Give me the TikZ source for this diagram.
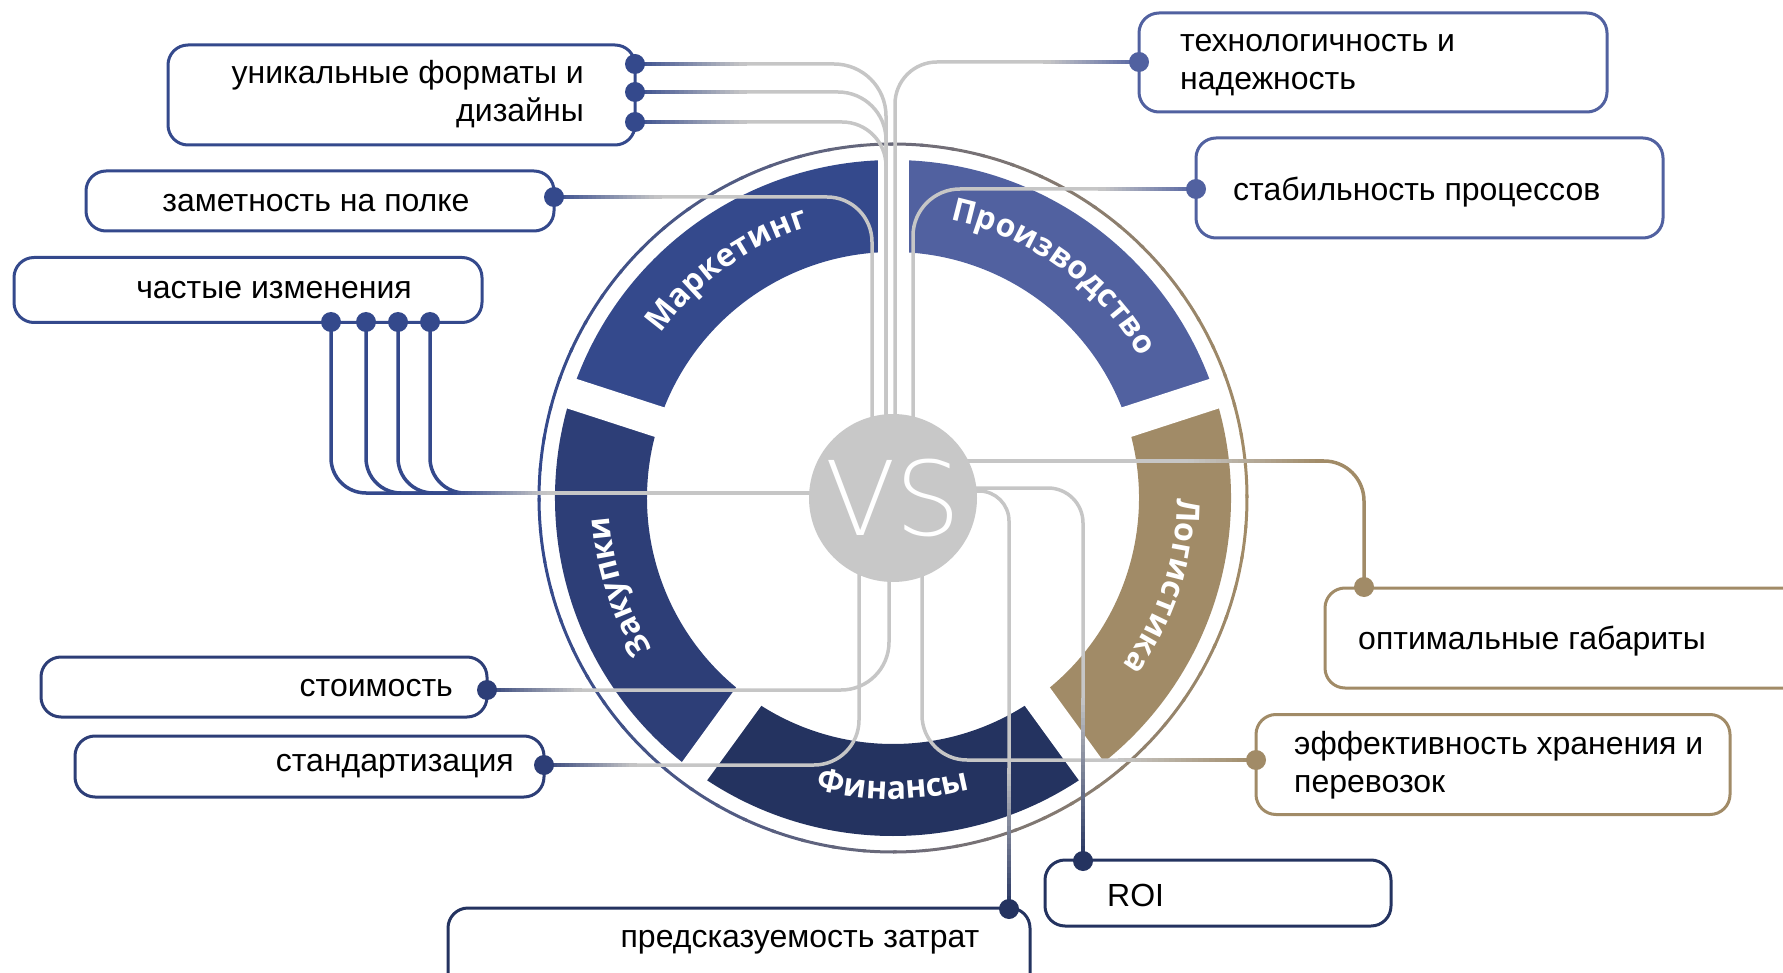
\documentclass[tikz,border=0pt]{standalone}
\usepackage{fontspec}
\setmainfont{Liberation Sans}
\newfontfamily\ringfont{Open Sans}
\IfFontExistsTF{DejaVu Sans ExtraLight}{\newfontfamily\vsfont{DejaVu Sans ExtraLight}}{\newfontfamily\vsfont{DejaVu Sans}}
\usetikzlibrary{calc,decorations.text}

\definecolor{mk}{HTML}{34498C}
\definecolor{pr}{HTML}{5161A0}
\definecolor{lg}{HTML}{A18B67}
\definecolor{fn}{HTML}{243360}
\definecolor{zk}{HTML}{2D3E77}
\definecolor{ln}{HTML}{C6C6C6}
\definecolor{vsc}{HTML}{C8C8C8}

\newcommand\rfont{\ringfont\bfseries\fontsize{32}{32}\selectfont\color{white}}
\newcommand\gradln[4]{%
  \foreach \k in {0,...,23}{%
    \pgfmathsetmacro\gA{\k/24}%
    \pgfmathsetmacro\gB{(\k+1)/24}%
    \pgfmathsetmacro\gC{100*(\k+0.5)/24}%
    \draw[line width=3.5pt, line cap=rect, color=#4!\gC!#3] ($#1!\gA!#2$) -- ($#1!\gB!#2$);}%
}

\begin{document}
\begin{tikzpicture}[x=1pt,y=-1pt,
  box/.style={draw, line width=3pt, rounded corners=20pt, fill=white, inner sep=0pt},
  lbl/.style={inner sep=0pt, font=\fontsize{32}{38}\selectfont, text=black},
  conn/.style={line width=3.5pt, draw=ln},
  dotn/.style={circle, inner sep=0pt, minimum size=20pt}]

\useasboundingbox (0,0) rectangle (1783,973);

% ---------- ring ----------
\begin{scope}[shift={(893,498)}, x=1pt, y=1pt]
  \foreach \a in {0,5,...,355}{%
    \pgfmathsetmacro\tt{50+50*cos(\a+2.5)}%
    \draw[line width=3pt, color=lg!\tt!mk] (\a:354) arc (\a:\a+5.6:354);}
  \fill[mk] (90:338) arc (90:162:338) -- (162:246) arc (162:90:246) -- cycle;
  \fill[zk] (162:338) arc (162:234:338) -- (234:246) arc (234:162:246) -- cycle;
  \fill[fn] (234:338) arc (234:306:338) -- (306:246) arc (306:234:246) -- cycle;
  \fill[lg] (306:338) arc (306:378:338) -- (378:246) arc (378:306:246) -- cycle;
  \fill[pr] (18:338) arc (18:90:338) -- (90:246) arc (90:18:246) -- cycle;
  \foreach \g in {18,90,162,234,306}{\draw[white, line width=31pt] (\g:238) -- (\g:346);}
  \path[decorate, decoration={text along path, text align=center, text={|\rfont|Маркетинг}}] (186:284) arc (186:66:284);
  \path[decorate, decoration={text along path, text align=center, text={|\rfont|Производство}}] (126:284) arc (126:-18:284);
  \path[decorate, decoration={text along path, text align=center, text={|\rfont|Логистика}}] (54:284) arc (54:-90:284);
  \path[decorate, decoration={text along path, text align=center, text={|\rfont|Закупки}}] (270:284) arc (270:126:284);
  \path[decorate, decoration={text along path, text align=center, text={|\rfont|Финансы}}] (200:301) arc (200:340:301);
\end{scope}

% ---------- boxes ----------
\node[box, draw=mk, minimum width=467pt, minimum height=100pt] (b1) at (401.5,95) {};
\node[box, draw=mk, minimum width=468pt, minimum height=60pt] (b2) at (320,201) {};
\node[box, draw=mk, minimum width=468pt, minimum height=65pt] (b3) at (248,290) {};
\node[box, draw=pr, minimum width=468pt, minimum height=99pt] (b4) at (1373,62.5) {};
\node[box, draw=pr, minimum width=467pt, minimum height=100pt] (b5) at (1429.5,188) {};
\node[box, draw=lg, minimum width=500pt, minimum height=100pt] (b6) at (1575,638) {};
\node[box, draw=lg, minimum width=474pt, minimum height=100pt] (b7) at (1493,764.5) {};
\node[box, draw=fn, minimum width=346pt, minimum height=66pt] (b8) at (1218,893) {};
\node[box, draw=fn, minimum width=582pt, minimum height=100pt] (b9) at (739,958) {};
\node[box, draw=zk, minimum width=446pt, minimum height=60pt] (b10) at (264,687) {};
\node[box, draw=zk, minimum width=469pt, minimum height=61pt] (b11) at (309.5,766.5) {};

\node[lbl, anchor=east, align=right] (t1) at (584,94) {уникальные форматы и\\дизайны};
\node[lbl] (t2) at (316,203) {заметность на полке};
\node[lbl] (t3) at (274,290) {частые изменения};
\node[lbl, anchor=west, align=left] (t4) at (1180,65) {технологичность и\\надежность};
\node[lbl, anchor=west] (t5) at (1233,192) {стабильность процессов};
\node[lbl, anchor=west] (t6) at (1358,641) {оптимальные габариты};
\node[lbl, anchor=west, align=left] (t7) at (1294,765) {эффективность хранения и\\перевозок};
\node[lbl, anchor=west] (t8) at (1107,895) {ROI};
\node[lbl] (t9) at (800,942) {предсказуемость затрат};
\node[lbl, anchor=east] (t10) at (453,688) {стоимость};
\node[lbl, anchor=east] (t11) at (514,766) {стандартизация};

% ---------- dots (positions) ----------
\coordinate (d1a) at (635,64);
\coordinate (d1b) at (635,92);
\coordinate (d1c) at (635,122);
\coordinate (d2) at (554,197);
\coordinate (d3a) at (331,322);
\coordinate (d3b) at (366,322);
\coordinate (d3c) at (398,322);
\coordinate (d3d) at (430,322);
\coordinate (d4) at (1139,62);
\coordinate (d5) at (1196,189);
\coordinate (d6) at (1364,587);
\coordinate (d7) at (1256,760);
\coordinate (d8) at (1083,861);
\coordinate (d9) at (1009,909);
\coordinate (d10) at (487,690);
\coordinate (d11) at (544,765);

% lanes
\coordinate (lane1) at (886,440);
\coordinate (lane2) at (872,440);
\coordinate (lane4) at (895,440);
\coordinate (lane5) at (913,440);
\coordinate (laneL) at (850,493);
\coordinate (laneR1) at (930,461);
\coordinate (laneR2) at (940,488);
\coordinate (laneR3) at (940,491);
\coordinate (laneB1) at (922,540);
\coordinate (laneB2) at (889,540);
\coordinate (laneB3) at (859,540);

% gradient ends
\coordinate (g1a) at (745,64);
\coordinate (g1b) at (745,92);
\coordinate (g1c) at (745,122);
\coordinate (g2) at (660,197);
\coordinate (g3s) at (455,493);
\coordinate (g3e) at (545,493);
\coordinate (g4) at (1045,62);
\coordinate (g5) at (1100,189);
\coordinate (g6s) at (1190,461);
\coordinate (g6e) at (1322,461);
\coordinate (g7) at (1120,760);
\coordinate (g8) at (1083,700);
\coordinate (g9) at (1009,770);
\coordinate (g10) at (580,690);
\coordinate (g11) at (635,765);

% ---------- connectors ----------
\draw[conn, rounded corners=52pt] (d1a) -| (lane1);
\draw[conn, rounded corners=48pt] (d1b) -| (lane1);
\draw[conn, rounded corners=44pt] (d1c) -| (lane1);
\gradln{(d1a)}{(g1a)}{mk}{ln}
\gradln{(d1b)}{(g1b)}{mk}{ln}
\gradln{(d1c)}{(g1c)}{mk}{ln}

\draw[conn, rounded corners=45pt] (d2) -| (lane2);
\gradln{(d2)}{(g2)}{mk}{ln}

\draw[conn, draw=mk, rounded corners=35pt] (d3a) |- (g3e);
\draw[conn, draw=mk, rounded corners=35pt] (d3b) |- (g3e);
\draw[conn, draw=mk, rounded corners=35pt] (d3c) |- (g3e);
\draw[conn, draw=mk, rounded corners=35pt] (d3d) |- (g3e);
\draw[conn] (g3e) -- (laneL);
\gradln{(g3s)}{(g3e)}{mk}{ln}

\draw[conn, rounded corners=42pt] (d4) -| (lane4);
\gradln{(d4)}{(g4)}{pr}{ln}
\draw[conn, rounded corners=47pt] (d5) -| (lane5);
\gradln{(d5)}{(g5)}{pr}{ln}

\draw[conn, draw=lg, rounded corners=40pt] (laneR1) -| (d6);
\draw[conn] (laneR1) -- (g6s);
\gradln{(g6s)}{(g6e)}{ln}{lg}

\draw[conn, rounded corners=45pt] (laneB1) |- (d7);
\gradln{(g7)}{(d7)}{ln}{lg}

\draw[conn, rounded corners=35pt] (laneR2) -| (d8);
\gradln{(g8)}{(d8)}{ln}{fn}
\draw[conn, rounded corners=30pt] (laneR3) -| (d9);
\gradln{(g9)}{(d9)}{ln}{fn}

\draw[conn, rounded corners=48pt] (d10) -| (laneB2);
\gradln{(d10)}{(g10)}{zk}{ln}
\draw[conn, rounded corners=45pt] (d11) -| (laneB3);
\gradln{(d11)}{(g11)}{zk}{ln}

% ---------- dots ----------
\foreach \n in {d1a,d1b,d1c,d2,d3a,d3b,d3c,d3d}{\node[dotn, fill=mk] (n\n) at (\n) {};}
\foreach \n in {d4,d5}{\node[dotn, fill=pr] (n\n) at (\n) {};}
\foreach \n in {d6,d7}{\node[dotn, fill=lg] (n\n) at (\n) {};}
\foreach \n in {d8,d9}{\node[dotn, fill=fn] (n\n) at (\n) {};}
\foreach \n in {d10,d11}{\node[dotn, fill=zk] (n\n) at (\n) {};}

% ---------- VS ----------
\node[circle, fill=vsc, minimum size=168pt, inner sep=0pt] (vs) at (893,498) {};
\node[text=white, inner sep=0pt, font=\vsfont\fontsize{103}{103}\selectfont] (vst) at (vs) {VS};
\end{tikzpicture}
\end{document}
